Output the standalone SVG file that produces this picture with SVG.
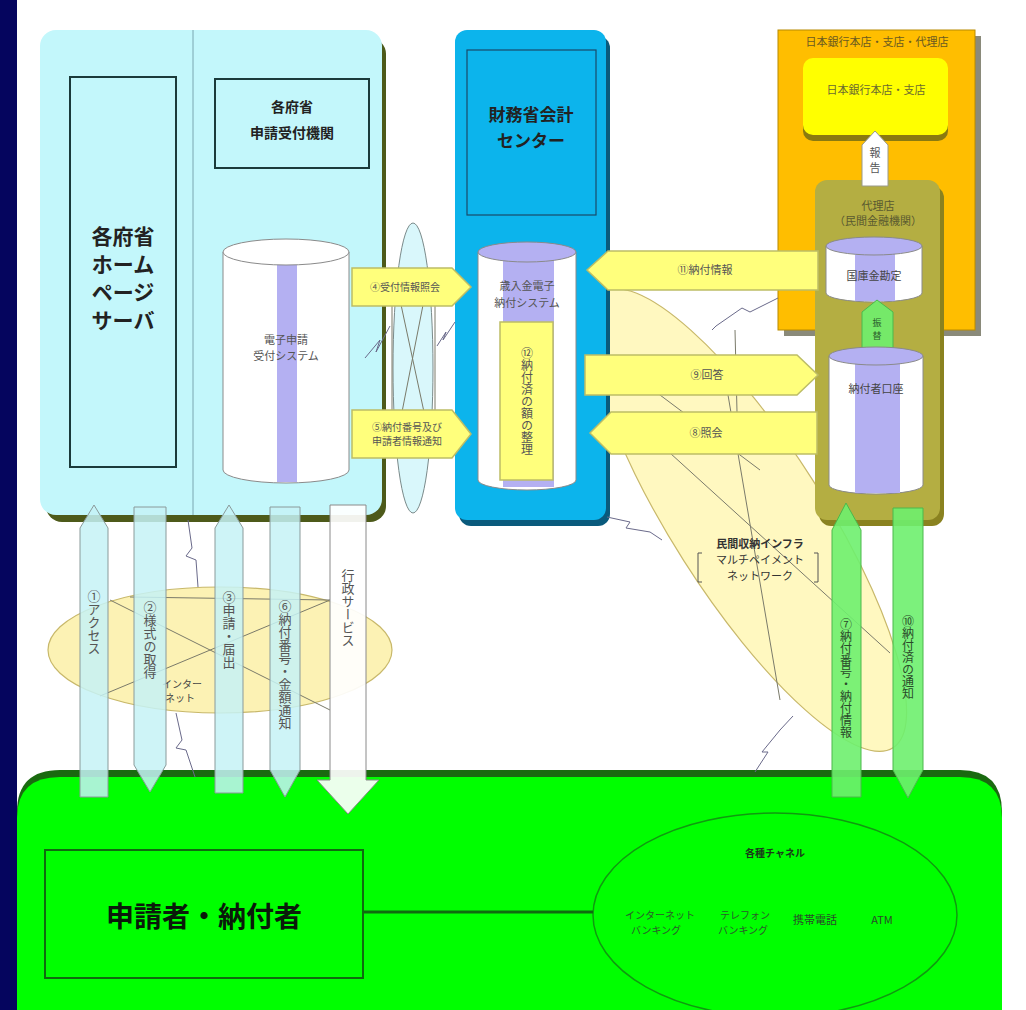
<svg xmlns="http://www.w3.org/2000/svg" width="1026" height="1010" viewBox="0 0 1026 1010">
<defs>
<style>
text{font-family:"Noto Sans CJK JP","Noto Sans",sans-serif;fill:#222;}
.t{text-anchor:middle;}
.big{font-size:21px;font-weight:700;}
.mid{font-size:16px;font-weight:700;}
.sm{font-size:11px;fill:#555;}
.xs{font-size:10px;fill:#444;}
.vt{writing-mode:vertical-rl;text-orientation:upright;text-anchor:middle;font-size:13px;fill:#555;}
.cyl{fill:#fff;stroke:#8a8a8a;stroke-width:1;}
.stripe{fill:#b4b0f2;}
.yarrow{fill:#ffff7c;stroke:#bdbd66;stroke-width:1.5;}
.carrow{fill:#c6f2f6;fill-opacity:0.85;stroke:#8a9a9a;stroke-width:1;}
.garrow{fill:#6ef06e;fill-opacity:0.9;stroke:#4cb84c;stroke-width:1;}
.net{fill:none;stroke:#7a7a6a;stroke-width:1;}
.bolt{fill:none;stroke:#6a6a8a;stroke-width:1;}
</style>
</defs>
<rect width="1026" height="1010" fill="#ffffff"/>
<rect x="0" y="0" width="17" height="1010" fill="#05055e"/>

<!-- network ellipses -->
<g id="net-internet">
<ellipse cx="220" cy="650" rx="172" ry="63" fill="#fcf2b4" stroke="#c8b86a" stroke-width="1.2"/>
<line class="net" x1="110" y1="600" x2="330" y2="710"/>
<line class="net" x1="330" y1="600" x2="100" y2="696"/>
<line class="net" x1="130" y1="597" x2="330" y2="600"/>
<text class="xs t" x="182" y="688">インター</text>
<text class="xs t" x="180" y="702">ネット</text>
</g>
<g id="net-multipayment">
<ellipse cx="748" cy="520" rx="270" ry="76" transform="rotate(57.5 748 520)" fill="#fff8c0" stroke="#c8b86a" stroke-width="1.2"/>
<line class="net" x1="670" y1="453" x2="890" y2="653"/>
<line class="net" x1="728" y1="395" x2="780" y2="700"/>
<line class="net" x1="735" y1="330" x2="737" y2="412"/>
<line class="net" x1="640" y1="380" x2="760" y2="470"/>
<text class="t" x="760" y="548" style="font-size:11px;font-weight:700;fill:#333">民間収納インフラ</text>
<text class="t" x="760" y="564" style="font-size:11px;fill:#333">マルチペイメント</text>
<text class="t" x="760" y="580" style="font-size:11px;fill:#333">ネットワーク</text>
<path d="M702 553 h-4 v29 h4 M814 553 h4 v29 h-4" fill="none" stroke="#555" stroke-width="1"/>
</g>

<!-- left cyan panel -->
<g id="ministries">
<rect x="46" y="38" width="340" height="484" rx="16" fill="#4d5a1a"/>
<rect x="40" y="30" width="342" height="485" rx="16" fill="#c3f7fb"/>
<line x1="193" y1="30" x2="193" y2="515" stroke="#7aa6b0" stroke-width="1"/>
</g>
<g id="homepage-server">
<rect x="70" y="77" width="106" height="390" fill="none" stroke="#1a3a3a" stroke-width="2"/>
<text class="big t" x="123" y="244">各府省</text>
<text class="big t" x="123" y="272">ホーム</text>
<text class="big t" x="123" y="300">ページ</text>
<text class="big t" x="123" y="328">サーバ</text>
</g>
<g id="reception-org">
<rect x="215" y="79" width="154" height="89" fill="none" stroke="#1a3a3a" stroke-width="2"/>
<text class="mid t" x="292" y="112" style="font-size:14px">各府省</text>
<text class="mid t" x="292" y="138" style="font-size:14px">申請受付機関</text>
</g>
<g id="e-application-system">
<path class="cyl" d="M223 252 V470 A63 13 0 0 0 349 470 V252"/>
<rect class="stripe" x="277" y="262" width="20" height="220"/>
<ellipse class="cyl" cx="286" cy="252" rx="63" ry="13"/>
<text class="sm t" x="286" y="344">電子申請</text>
<text class="sm t" x="286" y="360">受付システム</text>
</g>

<!-- small network between -->
<g id="net-ministry">
<ellipse cx="413" cy="368" rx="20" ry="145" fill="#d9f7fb" stroke="#7a8a8a" stroke-width="1"/>
<line class="net" x1="392" y1="300" x2="392" y2="412"/>
<line class="net" x1="435" y1="300" x2="435" y2="412"/>
<line class="net" x1="400" y1="300" x2="424" y2="412"/>
<line class="net" x1="424" y1="300" x2="402" y2="412"/>
</g>

<!-- blue panel -->
<g id="mof-center">
<rect x="459" y="36" width="151" height="490" rx="12" fill="#0a5a7c"/>
<rect x="455" y="30" width="151" height="490" rx="12" fill="#0cb4ec"/>
<rect x="467" y="50" width="129" height="165" fill="none" stroke="#1a4a6a" stroke-width="1.2"/>
<text class="mid t" x="531" y="121" style="font-size:17px">財務省会計</text>
<text class="mid t" x="531" y="147" style="font-size:17px">センター</text>
</g>
<g id="epayment-system">
<path class="cyl" d="M478 252 V480 A49 10 0 0 0 576 480 V252"/>
<rect class="stripe" x="503" y="252" width="51" height="235"/>
<ellipse cx="527" cy="252" rx="49" ry="10" fill="#b4b0f2" stroke="#8a8a8a" stroke-width="1"/>
<text class="sm t" x="527" y="290">歳入金電子</text>
<text class="sm t" x="527" y="307">納付システム</text>
<rect x="500" y="322" width="53" height="158" fill="#ffff7c" stroke="#bdbd66" stroke-width="1.5"/>
<text class="vt" x="527" y="401" style="font-size:12px">⑫納付済の額の整理</text>
</g>

<!-- orange BOJ panel -->
<g id="boj">
<rect x="784" y="36" width="197" height="300" fill="#8a8a7a"/>
<rect x="778" y="30" width="197" height="300" fill="#ffbe00" stroke="#b88a00" stroke-width="1"/>
<text class="t" x="877" y="46" style="font-size:11px;fill:#6a5a20">日本銀行本店・支店・代理店</text>
<rect x="803" y="66" width="145" height="75" rx="10" fill="#8a7a10"/>
<rect x="803" y="58" width="145" height="77" rx="10" fill="#ffff00"/>
<text class="t" x="876" y="94" style="font-size:11px;fill:#6a6a30">日本銀行本店・支店</text>
</g>
<g id="agent-bank">
<rect x="819" y="186" width="125" height="340" rx="12" fill="#8a8220"/>
<rect x="815" y="180" width="125" height="340" rx="12" fill="#b4ae42"/>
<text class="t" x="878" y="210" style="font-size:11px;fill:#5a5a30">代理店</text>
<text class="t" x="878" y="225" style="font-size:11px;fill:#5a5a30">（民間金融機関）</text>
</g>
<g id="report-arrow">
<polygon points="862,186 862,145 875,131 888,145 888,186" fill="#ffffff" stroke="#9a9a8a" stroke-width="1"/>
<text class="t" x="875" y="157" style="font-size:11px;fill:#555"><tspan x="875" y="157">報</tspan><tspan x="875" y="172">告</tspan></text>
</g>
<g id="treasury-account">
<path class="cyl" d="M826 246 V293 A48 9 0 0 0 922 293 V246"/>
<rect class="stripe" x="855" y="248" width="40" height="53"/>
<ellipse cx="874" cy="246" rx="48" ry="9" fill="#b4b0f2" stroke="#8a8a8a" stroke-width="1"/>
<text class="t" x="874" y="280" style="font-size:11px;fill:#444">国庫金勘定</text>
</g>
<g id="transfer-arrow">
<polygon points="862,355 862,312 877,300 893,312 893,355" class="garrow"/>
<text class="t" style="font-size:9px;fill:#2a5a2a"><tspan x="877" y="326">振</tspan><tspan x="877" y="339">替</tspan></text>
</g>
<g id="payer-account">
<path class="cyl" d="M829 356 V485 A47 9 0 0 0 923 485 V356"/>
<rect class="stripe" x="855" y="358" width="45" height="135"/>
<ellipse cx="876" cy="356" rx="47" ry="9" fill="#b4b0f2" stroke="#8a8a8a" stroke-width="1"/>
<text class="t" x="876" y="393" style="font-size:11px;fill:#444">納付者口座</text>
</g>

<!-- bottom green panel -->
<g id="applicants-area">
<path d="M17 812 Q17 770 60 770 H960 Q1002 770 1002 812 V1010 H17 Z" fill="#1a6a10"/>
<path d="M17 818 Q17 777 60 777 H960 Q1002 777 1002 818 V1010 H17 Z" fill="#00ff00"/>
</g>
<g id="applicant">
<rect x="45" y="850" width="318" height="128" fill="none" stroke="#106a10" stroke-width="2"/>
<text class="t" x="204" y="927" style="font-size:28px;font-weight:700;fill:#0a1a0a">申請者・納付者</text>
</g>
<g id="channels">
<ellipse cx="775" cy="915" rx="182" ry="102" fill="none" stroke="#109a10" stroke-width="1.5"/>
<text class="t" x="775" y="857" style="font-size:10px;font-weight:700;fill:#1a3a1a">各種チャネル</text>
<text class="t" x="660" y="919" style="font-size:10px;fill:#2a5a2a">インターネット</text>
<text class="t" x="656" y="934" style="font-size:10px;fill:#2a5a2a">バンキング</text>
<text class="t" x="745" y="919" style="font-size:10px;fill:#2a5a2a">テレフォン</text>
<text class="t" x="743" y="934" style="font-size:10px;fill:#2a5a2a">バンキング</text>
<text class="t" x="815" y="924" style="font-size:11px;fill:#2a4a2a">携帯電話</text>
<text class="t" x="882" y="924" style="font-size:11px;fill:#2a4a2a">ATM</text>
</g>

<!-- connectors -->
<g id="connectors">
<line x1="363" y1="912" x2="593" y2="912" stroke="#106a10" stroke-width="3"/>
<polyline class="bolt" points="188,520 192,548 186,556 196,560 198,587"/>
<polyline class="bolt" points="176,713 182,740 176,748 186,750 195,777"/>
<polyline class="bolt" points="365,358 380,340 376,352 390,326"/>
<polyline class="bolt" points="437,346 446,332 443,340 455,322"/>
<polyline class="bolt" points="607,517 630,522 626,528 650,532 662,540"/>
<polyline class="bolt" points="778,298 750,312 742,308 716,326 712,330"/>
<polyline class="bolt" points="755,772 768,752 762,752 780,730 793,716"/>
<polygon class="yarrow" points="352,268 452,268 471,287 452,306 352,306"/>
<text class="t" x="405" y="291" style="font-size:10px;fill:#555">④受付情報照会</text>
<polygon class="yarrow" points="352,410 452,410 471,434 452,458 352,458"/>
<text class="t" x="407" y="431" style="font-size:10px;fill:#555">⑤納付番号及び</text>
<text class="t" x="407" y="445" style="font-size:10px;fill:#555">申請者情報通知</text>
<polygon class="yarrow" points="818,251 608,251 587,270 608,290 818,290"/>
<text class="t" x="705" y="274" style="font-size:11px;fill:#555">⑪納付情報</text>
<polygon class="yarrow" points="585,355 797,355 818,375 797,395 585,395"/>
<text class="t" x="707" y="379" style="font-size:11px;fill:#555">⑨回答</text>
<polygon class="yarrow" points="817,412 611,412 590,433 611,454 817,454"/>
<text class="t" x="706" y="437" style="font-size:11px;fill:#555">⑧照会</text>
<polygon class="carrow" points="80,797 80,528 94,505 108,528 108,797"/>
<text class="vt" x="94" y="622">①アクセス</text>
<polygon class="carrow" points="134,507 166,507 166,765 150,792 134,765"/>
<text class="vt" x="150" y="640">②様式の取得</text>
<polygon class="carrow" points="215,793 215,528 229,505 243,528 243,793"/>
<text class="vt" x="229" y="630">③申請・届出</text>
<polygon class="carrow" points="270,507 300,507 300,770 285,797 270,770"/>
<text class="vt" x="285" y="665">⑥納付番号・金額通知</text>
<polygon points="330,505 366,505 366,780 379,780 348,814 317,780 330,780" fill="#ffffff" fill-opacity="0.92" stroke="#8a8a8a" stroke-width="1"/>
<text class="vt" x="348" y="608">行政サービス</text>
<polygon class="garrow" points="832,797 832,530 846,503 861,530 861,797"/>
<text class="vt" x="846" y="678" style="font-size:12px;fill:#2a4a2a">⑦納付番号・納付情報</text>
<polygon class="garrow" points="893,508 923,508 923,770 908,798 893,770"/>
<text class="vt" x="908" y="657" style="font-size:12px;fill:#2a4a2a">⑩納付済の通知</text>
</g>
</svg>
